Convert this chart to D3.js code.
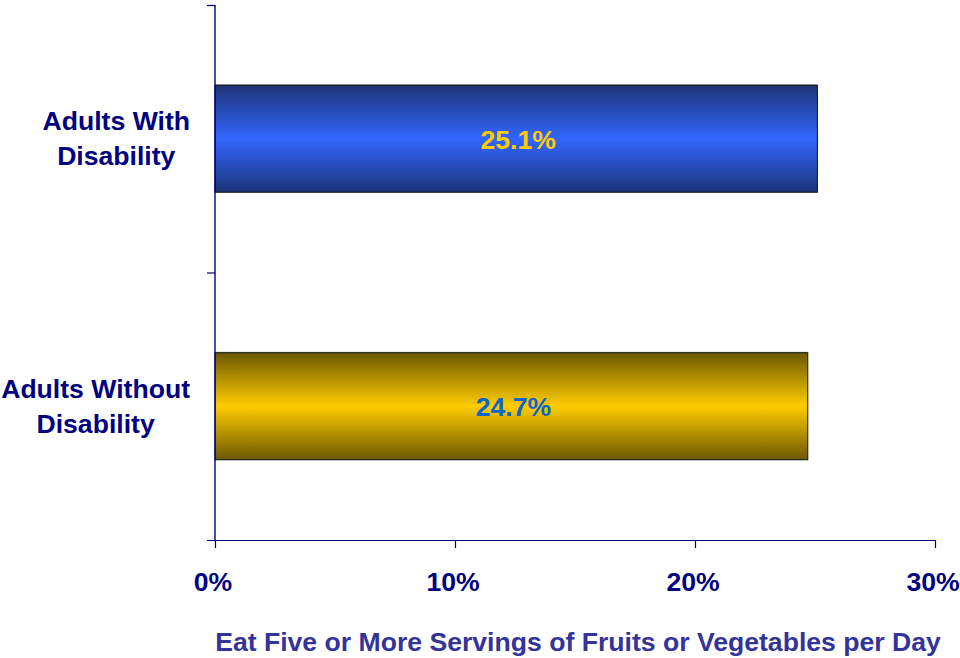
<!DOCTYPE html>
<html>
<head>
<meta charset="utf-8">
<script src="https://cdn.jsdelivr.net/npm/d3@7"></script>
<style>
  html, body { margin: 0; padding: 0; background: #fff; }
  svg { display: block; font-family: Arial, "Liberation Sans", sans-serif; }
</style>
</head>
<body>
<svg id="chart" width="960" height="658"></svg>
<script>
const categories = [["Adults With", "Disability"], ["Adults Without", "Disability"]];
const values = [25.1, 24.7];
const valueLabels = ["25.1%", "24.7%"];
const xTicks = [0, 10, 20, 30];
const xTickLabels = ["0%", "10%", "20%", "30%"];
const axisTitle = "Eat Five or More Servings of Fruits or Vegetables per Day";

(function () {
const svg = d3.select("#chart");
const pLeft = 215, pRight = 935, pTop = 5, pBottom = 540;
const fs = 26.6;

const x = d3.scaleLinear().domain([0, 30]).range([pLeft, pRight]);
const y = d3.scaleBand().domain(d3.range(categories.length)).range([pTop, pBottom])
  .paddingInner(0.6).paddingOuter(0.3);

const defs = svg.append("defs");
const grads = [
  { id: "gBlue", edge: "#1c3478", mid: "#3366ff" },
  { id: "gGold", edge: "#6b5800", mid: "#ffcc00" }
];
grads.forEach(g => {
  const lg = defs.append("linearGradient").attr("id", g.id)
    .attr("x1", 0).attr("y1", 0).attr("x2", 0).attr("y2", 1);
  lg.append("stop").attr("offset", "0%").attr("stop-color", g.edge);
  lg.append("stop").attr("offset", "50%").attr("stop-color", g.mid);
  lg.append("stop").attr("offset", "100%").attr("stop-color", g.edge);
});
const labelColors = ["#ffcc00", "#0a66cc"];

// bars
const bars = svg.append("g");
values.forEach((v, i) => {
  bars.append("line")
    .attr("x1", x(0)).attr("x2", x(v))
    .attr("y1", y(i) - 0.5).attr("y2", y(i) - 0.5)
    .attr("stroke", "#9a9a9a").attr("stroke-width", 1);
  bars.append("rect")
    .attr("x", x(0)).attr("y", y(i))
    .attr("width", x(v) - x(0)).attr("height", y.bandwidth())
    .attr("fill", `url(#${grads[i].id})`)
    .attr("stroke", "#111").attr("stroke-width", 1);
  bars.append("text")
    .attr("x", (x(0) + x(v)) / 2 + 2)
    .attr("y", y(i) + y.bandwidth() / 2 + 10)
    .attr("text-anchor", "middle")
    .attr("font-size", fs).attr("font-weight", "bold")
    .attr("fill", labelColors[i])
    .text(valueLabels[i]);
});

// x axis
const xAxis = d3.axisBottom(x).tickValues(xTicks).tickSize(8).tickSizeOuter(0)
  .tickFormat((d, i) => xTickLabels[i]);
const gx = svg.append("g").attr("transform", `translate(0,${pBottom})`).call(xAxis);
gx.select(".domain").attr("stroke", "#000080").attr("stroke-width", 1.2)
  .attr("d", `M${pLeft - 8},0.5H${pRight}`);
gx.selectAll(".tick line").attr("stroke", "#000080").attr("stroke-width", 1.2);
gx.selectAll(".tick text").attr("font-size", fs).attr("font-weight", "bold")
  .attr("fill", "#000080").attr("font-family", "Arial, 'Liberation Sans', sans-serif")
  .attr("dy", 0).attr("y", 51).attr("x", -2.5);

// y axis (category boundaries)
const gy = svg.append("g");
gy.append("line").attr("x1", pLeft).attr("x2", pLeft).attr("y1", pTop).attr("y2", pBottom)
  .attr("stroke", "#000080").attr("stroke-width", 1.4);
const boundaries = [pTop, pTop + (pBottom - pTop) / 2];
boundaries.forEach(b => {
  gy.append("line").attr("x1", pLeft - 8).attr("x2", pLeft).attr("y1", b + 0.5).attr("y2", b + 0.5)
    .attr("stroke", "#000080").attr("stroke-width", 1.2);
});

// category labels: centered block, right edge at 190
const catG = svg.append("g");
categories.forEach((lines, i) => {
  const cy = y(i) + y.bandwidth() / 2;
  const t = catG.append("text")
    .attr("font-size", fs).attr("font-weight", "bold").attr("fill", "#000080")
    .attr("text-anchor", "middle");
  const lineH = 35;
  lines.forEach((ln, j) => {
    t.append("tspan").attr("x", 0)
      .attr("y", cy + 9 + (j - (lines.length - 1) / 2) * lineH)
      .text(ln);
  });
  const w = d3.max(t.selectAll("tspan").nodes(), n => n.getComputedTextLength());
  t.selectAll("tspan").attr("x", 190 - w / 2);
});

// axis title
svg.append("text")
  .attr("x", 578)
  .attr("y", 651)
  .attr("text-anchor", "middle")
  .attr("font-size", fs).attr("font-weight", "bold").attr("fill", "#333399")
  .text(axisTitle);
})();
</script>
</body>
</html>
